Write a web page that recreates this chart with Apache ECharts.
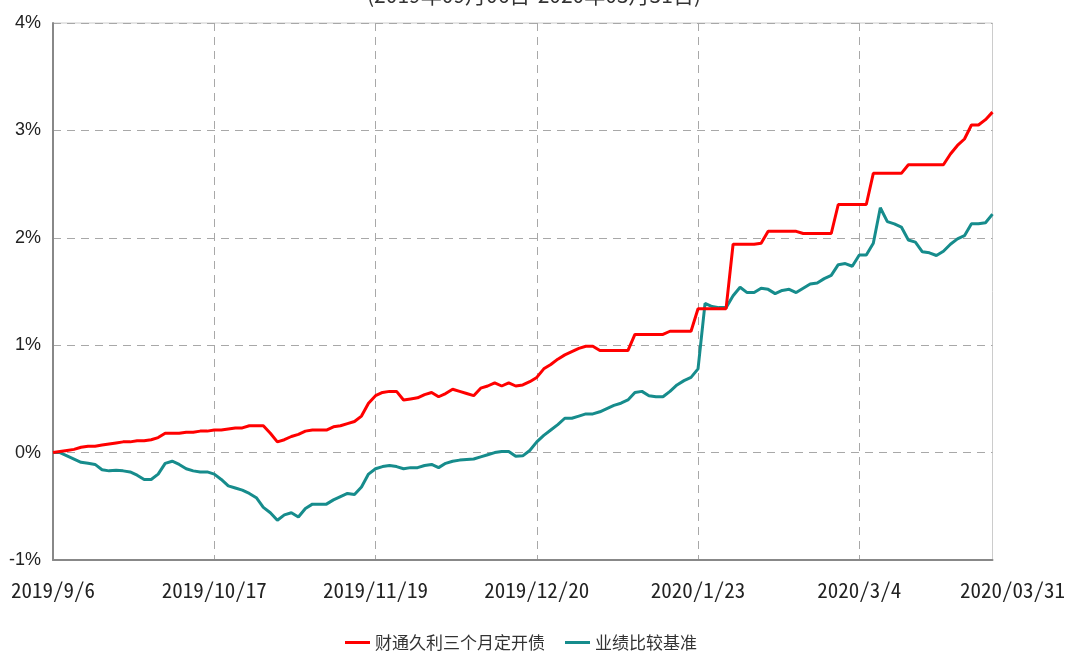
<!DOCTYPE html>
<html>
<head>
<meta charset="utf-8">
<script src="https://cdn.jsdelivr.net/npm/echarts@6/dist/echarts.min.js"></script>
<style>
html,body{margin:0;padding:0;background:#fff;}
#chart{width:1068px;height:652px;}
</style>
</head>
<body>
<div id="chart"></div>
<script>
const titleText = "(2019年09月06日-2020年03月31日)";
const seriesNames = ["财通久利三个月定开债", "业绩比较基准"];
const dates = [
"2019/9/6","2019/9/9","2019/9/10","2019/9/11","2019/9/12","2019/9/16","2019/9/17","2019/9/18","2019/9/19","2019/9/20","2019/9/23","2019/9/24","2019/9/25","2019/9/26","2019/9/27","2019/9/30",
"2019/10/8","2019/10/9","2019/10/10","2019/10/11","2019/10/14","2019/10/15","2019/10/16","2019/10/17","2019/10/18","2019/10/21","2019/10/22","2019/10/23","2019/10/24","2019/10/25","2019/10/28","2019/10/29","2019/10/30","2019/10/31",
"2019/11/1","2019/11/4","2019/11/5","2019/11/6","2019/11/7","2019/11/8","2019/11/11","2019/11/12","2019/11/13","2019/11/14","2019/11/15","2019/11/18","2019/11/19","2019/11/20","2019/11/21","2019/11/22","2019/11/25","2019/11/26","2019/11/27","2019/11/28","2019/11/29",
"2019/12/2","2019/12/3","2019/12/4","2019/12/5","2019/12/6","2019/12/9","2019/12/10","2019/12/11","2019/12/12","2019/12/13","2019/12/16","2019/12/17","2019/12/18","2019/12/19","2019/12/20","2019/12/23","2019/12/24","2019/12/25","2019/12/26","2019/12/27","2019/12/30","2019/12/31",
"2020/1/2","2020/1/3","2020/1/6","2020/1/7","2020/1/8","2020/1/9","2020/1/10","2020/1/13","2020/1/14","2020/1/15","2020/1/16","2020/1/17","2020/1/20","2020/1/21","2020/1/22","2020/1/23",
"2020/2/3","2020/2/4","2020/2/5","2020/2/6","2020/2/7","2020/2/10","2020/2/11","2020/2/12","2020/2/13","2020/2/14","2020/2/17","2020/2/18","2020/2/19","2020/2/20","2020/2/21","2020/2/24","2020/2/25","2020/2/26","2020/2/27","2020/2/28",
"2020/3/2","2020/3/3","2020/3/4","2020/3/5","2020/3/6","2020/3/9","2020/3/10","2020/3/11","2020/3/12","2020/3/13","2020/3/16","2020/3/17","2020/3/18","2020/3/19","2020/3/20","2020/3/23","2020/3/24","2020/3/25","2020/3/26","2020/3/27","2020/3/30","2020/3/31"
];
// tick label text shown on the x axis, keyed by category
const tickDates  = ["2019/9/6","2019/10/17","2019/11/19","2019/12/20","2020/1/23","2020/3/4","2020/3/31"];
const tickLabels = ["2019/9/6","2019/10/17","2019/11/19","2019/12/20","2020/1/23","2020/3/4","2020/03/31"];
const yTicks = [-1, 0, 1, 2, 3, 4];

// cumulative return, %
const fundValues = [
0.00,0.01,0.02,0.03,0.05,0.06,0.06,0.07,0.08,0.09,0.10,0.10,0.11,0.11,0.12,0.14,
0.18,0.18,0.18,0.19,0.19,0.20,0.20,0.21,0.21,0.22,0.23,0.23,0.25,0.25,0.25,0.18,0.10,0.12,
0.15,0.17,0.20,0.21,0.21,0.21,0.24,0.25,0.27,0.29,0.34,0.46,0.53,0.56,0.57,0.57,0.49,0.50,0.51,0.54,0.56,
0.52,0.55,0.59,0.57,0.55,0.53,0.60,0.62,0.65,0.62,0.65,0.62,0.63,0.66,0.70,0.78,0.82,0.87,0.91,0.94,0.97,0.99,
0.99,0.95,0.95,0.95,0.95,0.95,1.10,1.10,1.10,1.10,1.10,1.13,1.13,1.13,1.13,1.34,
1.34,1.34,1.34,1.34,1.94,1.94,1.94,1.94,1.95,2.06,2.06,2.06,2.06,2.06,2.04,2.04,2.04,2.04,2.04,2.31,
2.31,2.31,2.31,2.31,2.60,2.60,2.60,2.60,2.60,2.68,2.68,2.68,2.68,2.68,2.68,2.78,2.86,2.92,3.05,3.05,3.10,3.17
];
const benchValues = [
0.00,0.00,-0.03,-0.06,-0.09,-0.10,-0.11,-0.16,-0.17,-0.165,-0.17,-0.18,-0.21,-0.25,-0.25,-0.20,
-0.10,-0.08,-0.11,-0.15,-0.17,-0.18,-0.18,-0.20,-0.25,-0.31,-0.33,-0.35,-0.38,-0.42,-0.51,-0.56,-0.63,-0.58,
-0.56,-0.60,-0.52,-0.48,-0.48,-0.48,-0.44,-0.41,-0.38,-0.39,-0.32,-0.20,-0.15,-0.13,-0.12,-0.13,-0.15,-0.14,-0.14,-0.12,-0.11,
-0.14,-0.10,-0.08,-0.07,-0.065,-0.06,-0.04,-0.02,0.00,0.01,0.01,-0.035,-0.03,0.02,0.10,0.16,0.21,0.26,0.32,0.32,0.34,0.36,
0.36,0.38,0.41,0.44,0.46,0.49,0.56,0.57,0.53,0.52,0.52,0.57,0.63,0.67,0.70,0.78,
1.39,1.36,1.35,1.35,1.46,1.54,1.49,1.49,1.53,1.52,1.48,1.51,1.52,1.49,1.53,1.57,1.58,1.62,1.65,1.75,
1.76,1.735,1.84,1.84,1.95,2.28,2.15,2.13,2.10,1.98,1.96,1.87,1.86,1.835,1.875,1.94,1.99,2.02,2.13,2.13,2.14,2.22
];

const colors = ["#ff0000", "#168c8c"];
const xFont = "'Noto Sans Mono CJK SC','Liberation Mono',monospace";
const lastDate = dates[dates.length - 1];

const chart = echarts.init(document.getElementById('chart'), null, {renderer: 'canvas'});
chart.setOption({
  animation: false,
  backgroundColor: '#ffffff',
  title: {
    text: titleText,
    left: 'center',
    top: -20,
    textStyle: {fontSize: 21, fontWeight: 'normal', color: '#333', fontFamily: "'Noto Sans CJK SC', sans-serif"}
  },
  legend: {
    left: 340,
    top: 629,
    itemWidth: 25,
    itemHeight: 3,
    itemGap: 20,
    icon: 'rect',
    textStyle: {fontSize: 17, color: '#333', fontFamily: "'Noto Sans CJK SC', sans-serif"},
    data: seriesNames
  },
  grid: {
    left: 53, right: 74, top: 23, bottom: 92,
    show: true, borderColor: '#cccccc', borderWidth: 1
  },
  xAxis: {
    type: 'category',
    data: dates,
    boundaryGap: false,
    axisLine: {onZero: false, lineStyle: {color: '#888888', width: 2}},
    axisTick: {show: false},
    axisLabel: {
      interval: (i, v) => tickDates.indexOf(v) >= 0,
      margin: 20,
      color: '#222',
      fontSize: 21,
      fontFamily: xFont,
      formatter: (v) => {
        const t = tickLabels[tickDates.indexOf(v)];
        return v === lastDate ? '{last|' + t + '}' : t;
      },
      rich: {last: {fontSize: 21, fontFamily: xFont, color: '#222', padding: [0, 0, 0, 40]}}
    },
    splitLine: {
      show: true,
      interval: (i, v) => tickDates.indexOf(v) >= 0 && v !== lastDate,
      lineStyle: {color: '#a8a8a8', type: [8, 6], width: 1}
    }
  },
  yAxis: {
    type: 'value',
    min: yTicks[0],
    max: yTicks[yTicks.length - 1],
    interval: 1,
    axisLine: {show: true, lineStyle: {color: '#888888', width: 2}},
    axisTick: {show: false},
    axisLabel: {
      margin: 12,
      color: '#222',
      fontSize: 18,
      fontFamily: "'Liberation Sans', Arial, sans-serif",
      formatter: '{value}%'
    },
    splitLine: {lineStyle: {color: '#a8a8a8', type: [8, 6], width: 1}}
  },
  series: [
    {name: seriesNames[0], type: 'line', data: fundValues, showSymbol: false, symbol: 'none',
     lineStyle: {color: colors[0], width: 3}, itemStyle: {color: colors[0]}, z: 3},
    {name: seriesNames[1], type: 'line', data: benchValues, showSymbol: false, symbol: 'none',
     lineStyle: {color: colors[1], width: 3}, itemStyle: {color: colors[1]}, z: 2}
  ]
});
</script>
</body>
</html>
